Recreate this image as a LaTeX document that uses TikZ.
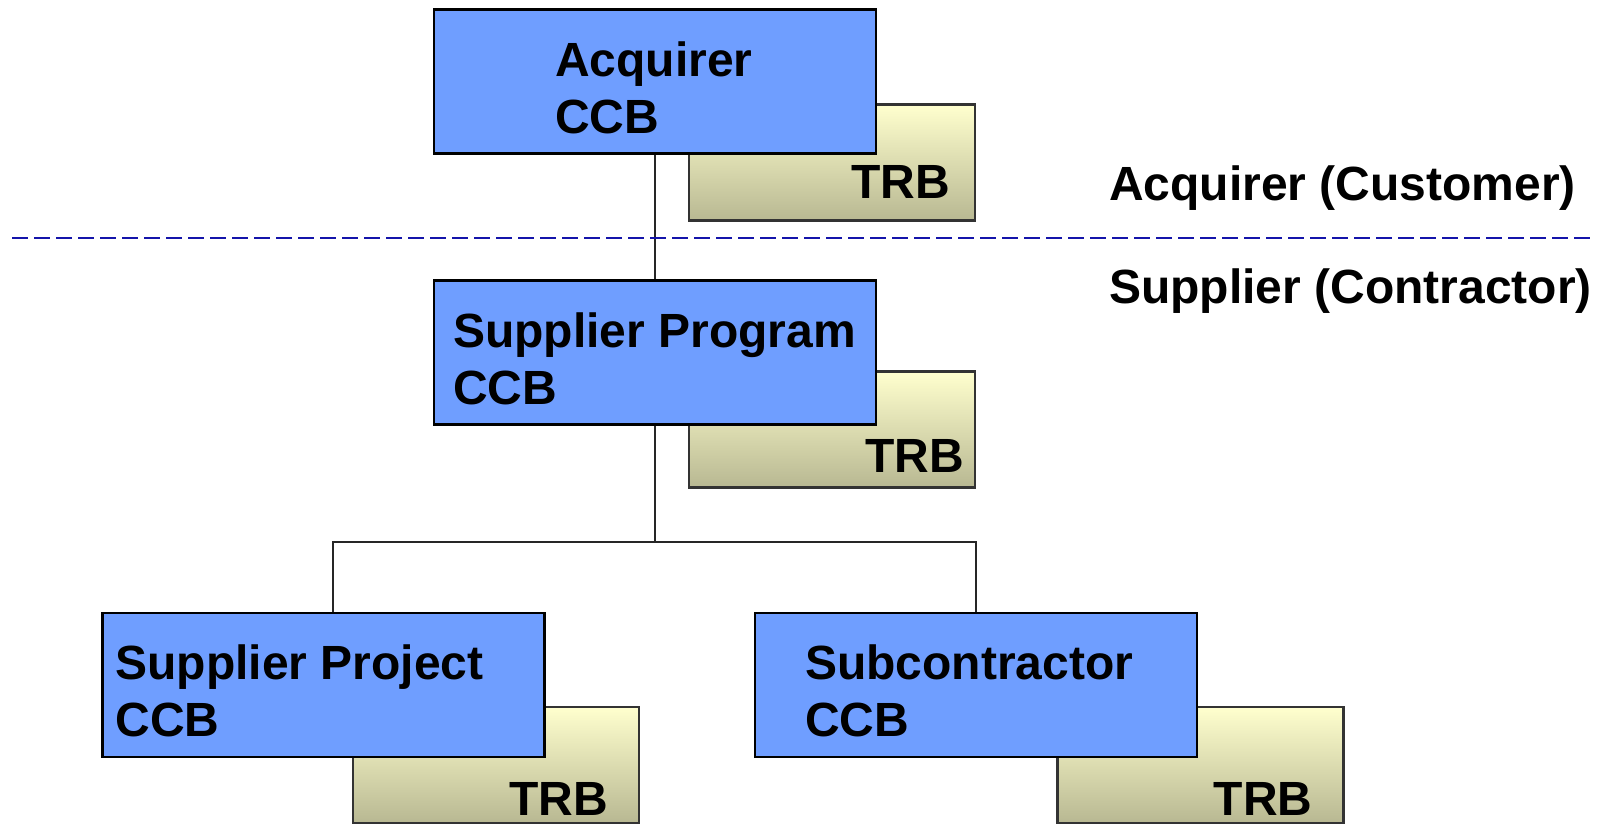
\documentclass[tikz,border=0pt]{standalone}
\usepackage{fontspec}
\setmainfont{Liberation Sans}
\newcommand\boxfont{\fontsize{48}{57}\selectfont\bfseries}
\definecolor{ccbblue}{RGB}{111,158,255}
\definecolor{trbtop}{RGB}{255,255,206}
\definecolor{trbbot}{RGB}{184,184,146}
\definecolor{divblue}{RGB}{20,20,170}
\tikzset{
  ccb/.style={draw=black, line width=2.2pt, fill=ccbblue, minimum width=442pt, minimum height=144pt, inner sep=0pt},
  ccbtext/.style={anchor=base west, inner sep=0pt, align=left, font=\boxfont},
  trb/.style={draw=black!80, line width=2.2pt, top color=trbtop, bottom color=trbbot, minimum width=286pt, minimum height=116pt, inner sep=0pt},
  trblabel/.style={anchor=base east, inner sep=0pt, font=\boxfont},
  link/.style={draw=black!85, line width=1.5pt},
  divider/.style={draw=divblue, line width=2pt, dash pattern=on 16pt off 6pt},
  side/.style={anchor=base west, inner sep=0pt, font=\boxfont}
}
\begin{document}
\begin{tikzpicture}[x=1pt,y=-1pt]
\useasboundingbox (0,0) rectangle (1606,825);
% coordinates
\coordinate (bus) at (653,543);
\coordinate (dl) at (12,238);
\coordinate (dr) at (1593,238);
% TRB boxes
\node[trb] (trb1) at (832,162.5) {};
\node[trb] (trb2) at (832,429.5) {};
\node[trb] (trb3) at (496,765) {};
\node[trb] (trb4) at (1200.5,765) {};
\node[trblabel] (trb1l) at ([shift={(-26,-23)}]trb1.south east) {TRB};
\node[trblabel] (trb2l) at ([shift={(-12,-16)}]trb2.south east) {TRB};
\node[trblabel] (trb3l) at ([shift={(-32,-9)}]trb3.south east) {TRB};
\node[trblabel] (trb4l) at ([shift={(-32,-9)}]trb4.south east) {TRB};
% CCB boxes
\node[ccb] (acq) at (655,81.5) {};
\node[ccb] (prog) at (655,352.5) {};
\node[ccb] (proj) at (323.5,685) {};
\node[ccb] (sub) at (976,685) {};
% connectors
\draw[link] (acq.south) -- (prog.north);
\draw[link] (prog.south) -- (prog.south |- bus);
\draw[link] ([xshift=9.5pt]proj.north) -- ++(0,-70) -| (sub.north);
% texts
\node[ccbtext] (acqt) at ([shift={(122,125)}]acq.north west) {Acquirer\\CCB};
\node[ccbtext] (progt) at ([shift={(20,125)}]prog.north west) {Supplier Program\\CCB};
\node[ccbtext] (projt) at ([shift={(14,125)}]proj.north west) {Supplier Project\\CCB};
\node[ccbtext] (subt) at ([shift={(51,125)}]sub.north west) {Subcontractor\\CCB};
% divider
\draw[divider] (dl) -- (dr);
\node[side] (cust) at (1109,200) {Acquirer (Customer)};
\node[side] (contr) at (1109,303) {Supplier (Contractor)};
\end{tikzpicture}
\end{document}
